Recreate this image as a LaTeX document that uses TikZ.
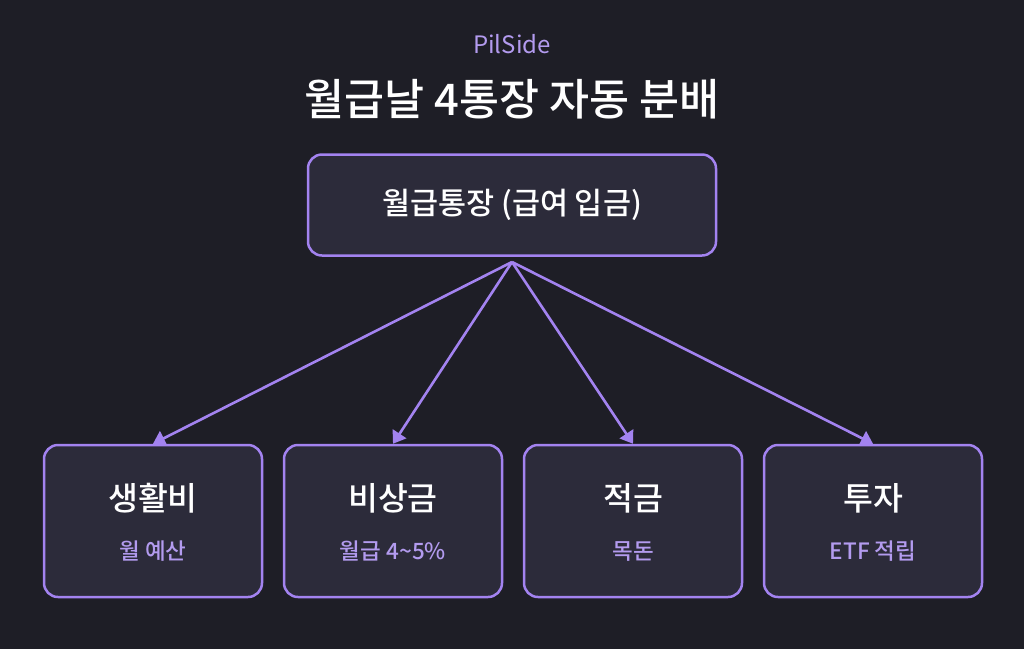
\documentclass[tikz,border=0pt]{standalone}
\usepackage{fontspec}
\setmainfont{Noto Sans CJK KR}
\newfontfamily\medfont{Noto Sans CJK KR Medium}
\usetikzlibrary{arrows.meta}
\definecolor{bg}{HTML}{1E1E26}
\definecolor{boxfill}{HTML}{2C2B3A}
\definecolor{accent}{HTML}{A383F0}
\definecolor{subtext}{HTML}{B39BEF}
\tikzset{
  card/.style={draw=accent, line width=2.5pt, fill=boxfill, rounded corners=14pt, minimum width=218pt, minimum height=152pt, inner sep=0pt},
  topcard/.style={draw=accent, line width=2.5pt, fill=boxfill, rounded corners=14pt, minimum width=408pt, minimum height=101pt, inner sep=0pt},
  conn/.style={draw=accent, line width=2.6pt, -{Triangle[length=12pt,width=16pt]}},
  cardtitle/.style={text=white, font=\medfont\fontsize{32.5}{38}\selectfont, inner sep=0pt},
  cardsub/.style={text=subtext, font=\medfont\fontsize{22.5}{26}\selectfont, inner sep=0pt},
}
\begin{document}
\begin{tikzpicture}[x=1pt,y=-1pt]
\useasboundingbox (0,0) rectangle (1024,649);
\fill[bg] (0,0) rectangle (1024,649);
\node[text=subtext, font=\fontsize{24}{28}\selectfont, inner sep=0pt] (brand) at (512,44) {PilSide};
\node[text=white, font=\medfont\fontsize{43.5}{50}\selectfont, inner sep=0pt] (title) at (512,99) {월급날 4통장 자동 분배};
\node[topcard] (src) at (512,205) {};
\node[text=white, font=\medfont\fontsize{30.5}{36}\selectfont, inner sep=0pt] (srct) at (512,205) {월급통장 (급여 입금)};
\coordinate (hub) at (512,262);
\foreach \n/\x/\t/\s in {a/153/생활비/월 예산, b/393/비상금/월급 4\textasciitilde5\%, c/633/적금/목돈, d/873/투자/ETF 적립}{
  \node[card] (\n) at (\x,521) {};
  \node[cardtitle] (\n t) at (\x,498) {\t};
  \node[cardsub] (\n s) at (\x,551) {\s};
  \draw[conn] (hub) -- (\n.north);
}
\end{tikzpicture}
\end{document}
